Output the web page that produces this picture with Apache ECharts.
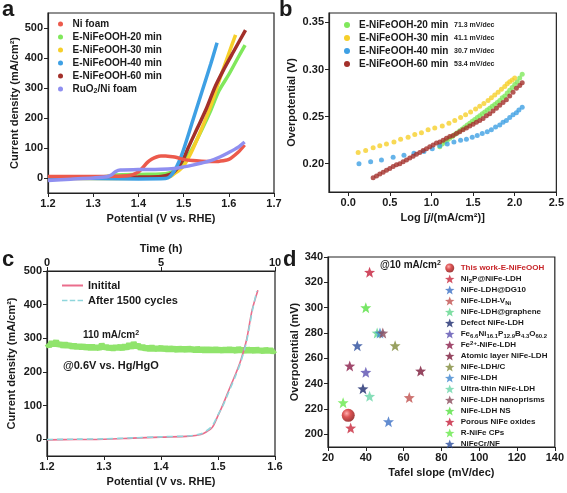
<!DOCTYPE html>
<html><head><meta charset="utf-8">
<script src="https://cdn.jsdelivr.net/npm/echarts@6/dist/echarts.min.js"></script>
<style>html,body{margin:0;padding:0;background:#fff}#c{width:567px;height:493px}</style>
</head><body><div id="c"></div><script>
const F = '"Liberation Sans", Arial, sans-serif';
const TXT = '#1a1a1a';

// ---------- Panel a : LSV curves ----------
const aNiFoamV = [1.20,1.25,1.30,1.35,1.38,1.40,1.41,1.42,1.43,1.44,1.45,1.46,1.47,1.48,1.49,1.50,1.52,1.54,1.56,1.58,1.60,1.62,1.635];
const aNiFoamJ = [5,5,5,6,8,20,35,52,63,70,73,73,72,70,66,62,58,56,55,56,62,85,110];
const a20V = [1.20,1.30,1.33,1.35,1.40,1.45,1.47,1.48,1.49,1.50,1.51,1.52,1.54,1.56,1.578,1.60,1.62,1.636];
const a20J = [0,2,5,10,12,13,18,26,35,50,75,100,160,225,290,345,400,443];
const a30V = [1.20,1.30,1.40,1.45,1.47,1.48,1.49,1.50,1.51,1.52,1.54,1.56,1.58,1.60,1.615];
const a30J = [-2,-2,-1,0,5,15,25,40,65,95,165,240,330,415,477];
const a40V = [1.20,1.30,1.40,1.46,1.47,1.48,1.49,1.50,1.52,1.54,1.56,1.574];
const a40J = [0,-2,-3,-2,5,25,55,95,190,285,380,451];
const a60V = [1.20,1.30,1.35,1.40,1.45,1.47,1.48,1.49,1.50,1.51,1.53,1.55,1.57,1.59,1.61,1.637];
const a60J = [0,0,2,3,5,12,22,40,65,100,165,230,305,365,420,493];
const aRuV = [1.20,1.25,1.30,1.33,1.34,1.35,1.36,1.40,1.45,1.48,1.50,1.52,1.54,1.56,1.58,1.60,1.62,1.635];
const aRuJ = [-8,-4,0,4,10,22,27,28,29,32,37,43,50,58,70,85,102,120];
const aNames = ['Ni foam','E-NiFeOOH-20 min','E-NiFeOOH-30 min','E-NiFeOOH-40 min','E-NiFeOOH-60 min','RuO2/Ni foam'];
const aXTicks = [1.2,1.3,1.4,1.5,1.6,1.7];
const aYTicks = [0,100,200,300,400,500];

// ---------- Panel b : Tafel plots ----------
const b20X = [1.10,1.13,1.16,1.19,1.22,1.25,1.28,1.31,1.34,1.37,1.40,1.43,1.46,1.49,1.52,1.55,1.58,1.61,1.64,1.67,1.70,1.73,1.76,1.79,1.82,1.85,1.88,1.91,1.94,1.97,2.00,2.03,2.06,2.09];
const b20Y = [0.218,0.221,0.223,0.225,0.227,0.229,0.231,0.233,0.235,0.237,0.239,0.241,0.243,0.245,0.247,0.249,0.251,0.253,0.255,0.257,0.259,0.261,0.263,0.265,0.267,0.270,0.272,0.275,0.278,0.281,0.284,0.287,0.291,0.295];
const b30X = [0.12,0.21,0.30,0.38,0.46,0.55,0.63,0.72,0.80,0.88,0.96,1.04,1.13,1.21,1.28,1.35,1.41,1.47,1.53,1.58,1.63,1.68,1.72,1.76,1.80,1.84,1.88,1.91,1.94,1.97,2.00];
const b30Y = [0.212,0.214,0.217,0.219,0.221,0.223,0.226,0.228,0.231,0.233,0.236,0.238,0.240,0.243,0.246,0.249,0.252,0.255,0.258,0.261,0.264,0.267,0.270,0.273,0.276,0.279,0.282,0.285,0.287,0.289,0.291];
const b40X = [0.13,0.27,0.40,0.54,0.67,0.79,0.91,1.01,1.10,1.19,1.27,1.35,1.42,1.49,1.55,1.61,1.67,1.72,1.77,1.82,1.86,1.90,1.94,1.98,2.02,2.05,2.09];
const b40Y = [0.200,0.202,0.204,0.207,0.209,0.211,0.213,0.216,0.219,0.221,0.223,0.225,0.226,0.228,0.230,0.232,0.234,0.236,0.239,0.241,0.244,0.246,0.249,0.252,0.254,0.257,0.260];
const b60X = [0.30,0.34,0.38,0.42,0.46,0.50,0.54,0.58,0.62,0.66,0.70,0.74,0.78,0.82,0.86,0.90,0.94,0.98,1.02,1.06,1.10,1.14,1.18,1.22,1.26,1.30,1.34,1.38,1.42,1.46,1.50,1.54,1.58,1.62,1.66,1.70,1.74,1.78,1.82,1.86,1.90,1.94,1.98,2.02,2.06,2.09];
const b60Y = [0.185,0.187,0.189,0.191,0.193,0.195,0.197,0.199,0.200,0.202,0.204,0.206,0.208,0.210,0.212,0.214,0.216,0.218,0.220,0.222,0.223,0.225,0.227,0.229,0.230,0.232,0.234,0.236,0.238,0.240,0.242,0.244,0.246,0.248,0.251,0.253,0.256,0.259,0.262,0.265,0.268,0.272,0.276,0.280,0.283,0.286];
const bNames = ['E-NiFeOOH-20 min','E-NiFeOOH-30 min','E-NiFeOOH-40 min','E-NiFeOOH-60 min'];
const bSlopes = ['71.3 mV/dec','41.1 mV/dec','30.7 mV/dec','53.4 mV/dec'];
const bXTicks = [0,0.5,1.0,1.5,2.0,2.5];
const bYTicks = [0.20,0.25,0.30,0.35];

// ---------- Panel c : stability ----------
const cInitV = [1.20,1.25,1.30,1.35,1.40,1.45,1.47,1.48,1.49,1.50,1.51,1.52,1.53,1.54,1.55,1.56,1.57];
const cInitJ = [-2,-1,0,3,6,9,14,22,35,70,108,150,190,235,295,385,443];
const cAfterV = [1.20,1.25,1.30,1.35,1.40,1.45,1.47,1.48,1.49,1.50,1.51,1.52,1.53,1.54,1.55,1.56,1.568];
const cAfterJ = [-1,0,1,4,7,10,16,25,40,72,105,145,185,230,290,380,440];
const cTime = [0,0.1,0.2,0.3,0.4,0.5,0.6,0.7,0.8,0.9,1.0,1.1,1.2,1.3,1.4,1.5,1.6,1.7,1.8,1.9,2.0,2.1,2.2,2.3,2.4,2.5,2.6,2.7,2.8,2.9,3.0,3.1,3.2,3.3,3.4,3.5,3.6,3.7,3.8,3.9,4.0,4.1,4.2,4.3,4.4,4.5,4.6,4.7,4.8,4.9,5.0,5.1,5.2,5.3,5.4,5.5,5.6,5.7,5.8,5.9,6.0,6.1,6.2,6.3,6.4,6.5,6.6,6.7,6.8,6.9,7.0,7.1,7.2,7.3,7.4,7.5,7.6,7.7,7.8,7.9,8.0,8.1,8.2,8.3,8.4,8.5,8.6,8.7,8.8,8.9,9.0,9.1,9.2,9.3,9.4,9.5,9.6,9.7,9.8,9.9,10.0];
const cCurrent = [284,276,289,279,292,278,285,275,284,276,281,273,280,272,279,271,278,270,277,269,277,269,276,268,282,270,277,268,275,267,276,269,277,267,279,269,284,271,287,273,281,269,277,267,274,266,276,265,273,266,274,265,273,264,272,265,271,263,272,264,271,263,272,264,270,262,271,263,269,262,270,262,269,261,270,262,268,261,269,261,270,262,268,260,271,261,268,260,269,261,268,260,269,261,267,259,268,260,267,259,265];
const cNames = ['Initital','After 1500 cycles'];
const cXTicks = [1.2,1.3,1.4,1.5,1.6];
const cYTicks = [0,100,200,300,400,500];
const cTTicks = [0,5,10];

// ---------- Panel d : comparison ----------
const dNames = ['This work-E-NiFeOOH','Ni2P@NiFe-LDH','NiFe-LDH@DG10','NiFe-LDH-VNi','NiFe-LDH@graphene','Defect NiFe-LDH','Fe6.6Ni16.1P12.9B4.3O60.2','Fe2+-NiFe-LDH','Atomic layer NiFe-LDH','NiFe-LDH/C','NiFe-LDH','Ultra-thin NiFe-LDH','NiFe-LDH nanoprisms','NiFe-LDH NS','Porous NiFe oxides','R-NiFe CPs','NiFeCr/NF'];
const dTafel = [30.7,32,52,63,46,38.5,40,31.5,69,55.5,47.5,42,49,40,42,28,35.5];
const dEta   = [215,205,210,229,280,236,249,254,250,270,280,230,280,300,328,225,270];
const dXTicks = [20,40,60,80,100,120,140];
const dYTicks = [200,220,240,260,280,300,320,340];

// ---------- styles ----------
const aColors = ['#ec5a4c','#80e85c','#f6cf2a','#3ea0e4','#a3302a','#8f8ff0'];
const bColors = ['#80e85c','#f6cf2a','#3ea0e4','#a3302a'];
const dColors = ['#c81e2a','#c8283c','#3b6fc4','#c0504d','#5fd68c','#1c2b6e','#5a4fb0','#8a1c48','#7a1838','#7f8a3a','#3f86cf','#6ad6a8','#8a4a5a','#55e040','#c41e3a','#66e84a','#2a4c9c'];
const STAR = 'path://M50 0 L62.34 33.01 L97.55 34.55 L69.97 56.49 L79.39 90.45 L50 71 L20.61 90.45 L30.03 56.49 L2.45 34.55 L37.66 33.01 Z';
const DASH = 'path://M0 0 H7 V2 H0 Z M10 0 H17 V2 H10 Z M20 0 H27 V2 H20 Z';

function pairs(xs, ys){ return xs.map((x,i)=>[x, ys[i]]); }

function vAxis(o){
  return {
    type:'value', gridIndex:o.grid, min:o.min, max:o.max, position:o.pos,
    name:o.name, nameLocation:'middle', nameGap:o.gap, nameRotate:o.rot,
    nameTextStyle:{fontFamily:F,fontSize:11,fontWeight:'bold',color:TXT,rich:o.rich||{}},
    axisLine:{show:true,onZero:false,lineStyle:{color:'#222',width:1.2}},
    axisTick:{show:true,length:4,customValues:o.ticks,lineStyle:{color:'#222',width:1}},
    axisLabel:{show:true,customValues:o.ticks,formatter:o.fmt,fontFamily:F,fontSize:11,fontWeight:'bold',color:TXT,margin:o.margin||5},
    splitLine:{show:false}
  };
}
const f1 = v=>Number(v).toFixed(1), f2 = v=>Number(v).toFixed(2), f0 = v=>String(Math.round(v));

const gridStyle = {show:true,borderColor:'#222',borderWidth:1.2,backgroundColor:'transparent'};
const grids = [
  Object.assign({left:48, top:13, width:226, height:180}, gridStyle),
  Object.assign({left:329, top:13, width:228, height:179}, gridStyle),
  Object.assign({left:47, top:271, width:228, height:185}, gridStyle),
  Object.assign({left:328, top:257, width:227, height:190}, gridStyle)
];

const xAxes = [
  vAxis({grid:0,min:1.2,max:1.7,pos:'bottom',name:'Potential (V vs. RHE)',gap:20,ticks:aXTicks,fmt:f1}),
  vAxis({grid:1,min:-0.23,max:2.5,pos:'bottom',name:'Log [{i|j}/(mA/cm²)]',gap:20,ticks:bXTicks,fmt:f1,
         rich:{i:{fontStyle:'italic',fontWeight:'bold',fontFamily:F,fontSize:11,color:TXT}}}),
  vAxis({grid:2,min:1.2,max:1.6,pos:'bottom',name:'Potential (V vs. RHE)',gap:20,ticks:cXTicks,fmt:f1}),
  vAxis({grid:2,min:0,max:10,pos:'top',name:'Time (h)',gap:17,ticks:cTTicks,fmt:f0,margin:3}),
  vAxis({grid:3,min:20,max:140,pos:'bottom',name:'Tafel slope (mV/dec)',gap:20,ticks:dXTicks,fmt:f0})
];
const yAxes = [
  vAxis({grid:0,min:-50,max:550,pos:'left',name:'Current density (mA/cm²)',gap:28,rot:90,ticks:aYTicks,fmt:f0}),
  vAxis({grid:1,min:0.17,max:0.36,pos:'left',name:'Overpotential (V)',gap:32,rot:90,ticks:bYTicks,fmt:f2}),
  vAxis({grid:2,min:-50,max:500,pos:'left',name:'Current density (mA/cm²)',gap:30,rot:90,ticks:cYTicks,fmt:f0}),
  vAxis({grid:3,min:190,max:340,pos:'left',name:'Overpotential (mV)',gap:15,rot:90,ticks:dYTicks,fmt:f0})
];

const series = [];
// panel a
const aData = [pairs(aNiFoamV,aNiFoamJ),pairs(a20V,a20J),pairs(a30V,a30J),pairs(a40V,a40J),pairs(a60V,a60J),pairs(aRuV,aRuJ)];
const aOrder = [1,2,4,3,0,5];
aOrder.forEach(i=>{
  series.push({type:'line',name:aNames[i],xAxisIndex:0,yAxisIndex:0,data:aData[i],smooth:0.3,
    showSymbol:false,symbol:'circle',symbolSize:5,
    lineStyle:{color:aColors[i],width:3.5},itemStyle:{color:aColors[i]},z:3});
});
// panel b
const bData = [pairs(b20X,b20Y),pairs(b30X,b30Y),pairs(b40X,b40Y),pairs(b60X,b60Y)];
bData.forEach((d,i)=>{
  series.push({type:'scatter',name:bNames[i],xAxisIndex:1,yAxisIndex:1,data:d,symbol:'circle',symbolSize:5,
    itemStyle:{color:bColors[i]}});
});
// panel c
series.push({type:'line',name:'stability',xAxisIndex:3,yAxisIndex:2,data:pairs(cTime,cCurrent),showSymbol:false,
  lineStyle:{color:'#90e46c',width:6},itemStyle:{color:'#90e46c'},z:1});
series.push({type:'line',name:cNames[0],xAxisIndex:2,yAxisIndex:2,data:pairs(cInitV,cInitJ),smooth:0.3,showSymbol:false,symbol:'none',
  lineStyle:{color:'#ea6d8c',width:1.6},itemStyle:{color:'#ea6d8c'},z:3});
series.push({type:'line',name:cNames[1],xAxisIndex:2,yAxisIndex:2,data:pairs(cAfterV,cAfterJ),smooth:0.3,showSymbol:false,symbol:'none',
  lineStyle:{color:'#8fd6dc',width:1.6,type:[6,4]},itemStyle:{color:'#8fd6dc'},z:4});
// panel d
dNames.forEach((n,i)=>{
  const sphere = i===0;
  series.push({type:'scatter',name:n,xAxisIndex:4,yAxisIndex:3,data:[[dTafel[i],dEta[i]]],
    symbol: sphere?'circle':STAR, symbolSize: sphere?13:11,
    itemStyle:{color: sphere ? {type:'radial',x:0.38,y:0.35,r:0.65,colorStops:[{offset:0,color:'#ff9c9c'},{offset:0.45,color:'#d42a2a'},{offset:1,color:'#8a0c0c'}]} : dColors[i]}});
});

const subRich = {
  sub:{fontSize:6,fontWeight:'bold',fontFamily:F,color:TXT,verticalAlign:'bottom'},
  sup:{fontSize:6,fontWeight:'bold',fontFamily:F,color:TXT,verticalAlign:'top'},
  r:{fontSize:8,fontWeight:'bold',fontFamily:F,color:'#c8262a'},
  s:{fontSize:7,fontWeight:'bold',fontFamily:F,color:TXT},
  sa:{fontSize:7,fontWeight:'bold',fontFamily:F,color:TXT,verticalAlign:'bottom'}
};
const richNames = {
  'RuO2/Ni foam':'RuO{sa|2}/Ni foam',
  'This work-E-NiFeOOH':'{r|This work-E-NiFeOOH}',
  'Ni2P@NiFe-LDH':'Ni{sub|2}P@NiFe-LDH',
  'NiFe-LDH-VNi':'NiFe-LDH-V{sub|Ni}',
  'Fe6.6Ni16.1P12.9B4.3O60.2':'Fe{sub|6.6}Ni{sub|16.1}P{sub|12.9}B{sub|4.3}O{sub|60.2}',
  'Fe2+-NiFe-LDH':'Fe{sup|2+}-NiFe-LDH'
};

const legends = [
  {data:aNames,icon:'circle',left:53,top:13,orient:'vertical',itemWidth:14,itemHeight:5,itemGap:1,selectedMode:false,
   formatter:n=>richNames[n]||n,
   textStyle:{fontFamily:F,fontSize:10,fontWeight:'bold',color:TXT,lineHeight:12,rich:subRich}},
  {data:bNames,icon:'circle',left:339,top:14,orient:'vertical',itemWidth:14,itemHeight:6,itemGap:1,selectedMode:false,
   formatter:n=>n+'  {s|'+bSlopes[bNames.indexOf(n)]+'}',
   textStyle:{fontFamily:F,fontSize:10,fontWeight:'bold',color:TXT,lineHeight:12,rich:subRich}},
  {data:[{name:cNames[0],icon:'rect'},{name:cNames[1],icon:DASH}],left:57,top:274,orient:'vertical',itemWidth:21,itemHeight:2,itemGap:2,selectedMode:false,
   textStyle:{fontFamily:F,fontSize:11,fontWeight:'bold',color:TXT,lineHeight:13}},
  {data:dNames,left:440,top:258,orient:'vertical',itemWidth:12,itemHeight:9,itemGap:1,selectedMode:false,
   formatter:n=>richNames[n]||n,
   textStyle:{fontFamily:F,fontSize:8,fontWeight:'bold',color:TXT,lineHeight:10,rich:subRich}}
];

const lab = (t,x,y,size)=>({type:'text',left:x,top:y,style:{text:t,fontFamily:F,fontSize:size,fontWeight:'bold',fill:TXT}});
const graphic = [
  lab('a',2,-1,22), lab('b',279,-1,22), lab('c',2,249,22), lab('d',283,249,22),
  {type:'text',left:83,top:330,style:{text:'110 mA/cm{p|2}',fontFamily:F,fontSize:10,fontWeight:'bold',fill:TXT,
    rich:{p:{fontSize:7,fontWeight:'bold',fontFamily:F,verticalAlign:'top',fill:TXT}}}},
  {type:'text',left:63,top:360,style:{text:'@0.6V vs. Hg/HgO',fontFamily:F,fontSize:11,fontWeight:'bold',fill:TXT}},
  {type:'text',left:380,top:260,style:{text:'@10 mA/cm{p|2}',fontFamily:F,fontSize:10,fontWeight:'bold',fill:TXT,
    rich:{p:{fontSize:7,fontWeight:'bold',fontFamily:F,verticalAlign:'top',fill:TXT}}}}
];

const chart = echarts.init(document.getElementById('c'), null, {renderer:'canvas'});
chart.setOption({
  animation:false, backgroundColor:'#fff',
  grid:grids, xAxis:xAxes, yAxis:yAxes, series:series, legend:legends, graphic:graphic
});
</script></body></html>
